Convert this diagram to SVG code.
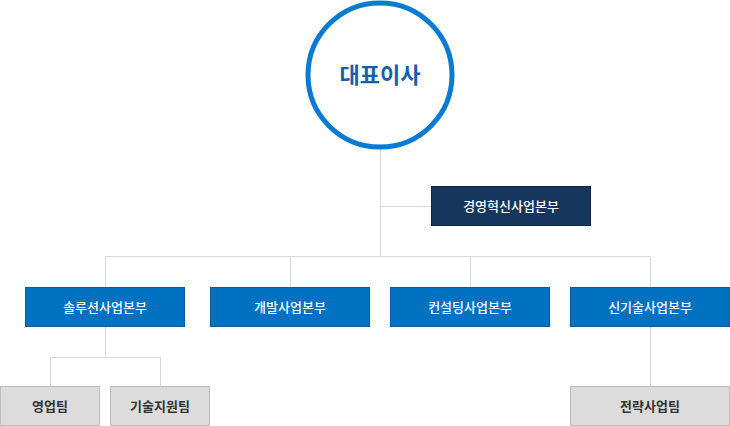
<svg xmlns="http://www.w3.org/2000/svg" width="730" height="426" viewBox="0 0 730 426">
<style>
.ln{stroke:#d9d9d9;stroke-width:1;fill:none}
.blue{fill:#0070c0;stroke:#0b5a9c;stroke-width:1}
.navy{fill:#17365d;stroke:#0e2644;stroke-width:1}
.gray{fill:#dcdcdc;stroke:#bdbdbd;stroke-width:1}
.tw{font-family:"Noto Sans CJK KR","Noto Sans",sans-serif;font-size:13px;font-weight:500;fill:#ffffff;text-anchor:middle}
.tg{font-family:"Noto Sans CJK KR","Noto Sans",sans-serif;font-size:13px;font-weight:700;fill:#333333;text-anchor:middle}
</style>
<rect width="730" height="426" fill="#ffffff"/>
<g id="connectors">
<path class="ln" d="M380.5 148V257M380.5 206.5H432M105.5 256.5H650.5M105.5 256.5V287M290.5 256.5V287M470.5 256.5V287M650.5 256.5V287"/>
<path class="ln" d="M105.5 327V357.5M50.5 357.5H160.5M50.5 357.5V386M160.5 357.5V386"/>
<path class="ln" d="M650.5 327V386"/>
</g>
<g id="ceo">
<circle cx="380" cy="75" r="72" fill="#ffffff" stroke="#0a7ad3" stroke-width="5"/>
<text x="380" y="83" font-family="'Noto Sans CJK KR','Noto Sans',sans-serif" font-size="22" font-weight="700" fill="#1560a8" text-anchor="middle">대표이사</text>
</g>
<g id="innovation">
<rect class="navy" x="431.5" y="186.5" width="159" height="39"/>
<text class="tw" x="511" y="210.5">경영혁신사업본부</text>
</g>
<g id="solution">
<rect class="blue" x="25.5" y="287.5" width="159" height="39"/>
<text class="tw" x="105" y="311.5">솔루션사업본부</text>
</g>
<g id="dev">
<rect class="blue" x="210.5" y="287.5" width="159" height="39"/>
<text class="tw" x="290" y="311.5">개발사업본부</text>
</g>
<g id="consulting">
<rect class="blue" x="390.5" y="287.5" width="159" height="39"/>
<text class="tw" x="470" y="311.5">컨설팅사업본부</text>
</g>
<g id="newtech">
<rect class="blue" x="570.5" y="287.5" width="159" height="39"/>
<text class="tw" x="650" y="311.5">신기술사업본부</text>
</g>
<g id="sales">
<rect class="gray" x="0.5" y="386.5" width="99" height="39"/>
<text class="tg" x="50" y="410.5">영업팀</text>
</g>
<g id="techsupport">
<rect class="gray" x="110.5" y="386.5" width="99" height="39"/>
<text class="tg" x="160" y="410.5">기술지원팀</text>
</g>
<g id="strategy">
<rect class="gray" x="570.5" y="386.5" width="159" height="39"/>
<text class="tg" x="650" y="410.5">전략사업팀</text>
</g>
</svg>
